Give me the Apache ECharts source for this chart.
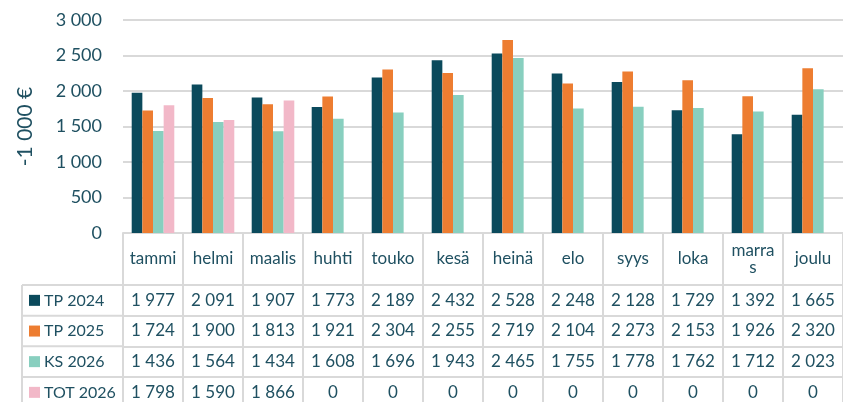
<!DOCTYPE html>
<html>
<head>
<meta charset="utf-8">
<script src="https://cdn.jsdelivr.net/npm/echarts@6/dist/echarts.min.js"></script>
<style>
  html, body { margin: 0; padding: 0; background: #fff; }
  #chart { width: 843px; height: 402px; }
</style>
</head>
<body>
<div id="chart"></div>
<script>
var months = ['tammi', 'helmi', 'maalis', 'huhti', 'touko', 'kesä', 'heinä', 'elo', 'syys', 'loka', 'marras', 'joulu'];
var seriesNames = ['TP 2024', 'TP 2025', 'KS 2026', 'TOT 2026'];
var tp2024 = [1977, 2091, 1907, 1773, 2189, 2432, 2528, 2248, 2128, 1729, 1392, 1665];
var tp2025 = [1724, 1900, 1813, 1921, 2304, 2255, 2719, 2104, 2273, 2153, 1926, 2320];
var ks2026 = [1436, 1564, 1434, 1608, 1696, 1943, 2465, 1755, 1778, 1762, 1712, 2023];
var tot2026 = [1798, 1590, 1866, 0, 0, 0, 0, 0, 0, 0, 0, 0];
var colors = ['#0b4a5c', '#ed7d31', '#88cfbf', '#f2b8c8'];

var allValues = [tp2024, tp2025, ks2026, tot2026];
var textColor = '#1f5061';
var lineColor = '#d9d9d9';
var font = 'Lato';

// tuhansien erotin välilyönnillä
function fmt(v) {
  return String(v).replace(/\B(?=(\d{3})+(?!\d))/g, ' ');
}

var myChart = echarts.init(document.getElementById('chart'));

// taulukon rivit: y-alku
var rowTops = [285, 315.7, 346.3, 377];
var rowH = 30.7;

var xAxes = [{
  type: 'category',
  data: months,
  position: 'bottom',
  axisLine: { show: true, lineStyle: { color: lineColor, width: 2 } },
  axisTick: { show: true, interval: 0, length: 175, lineStyle: { color: lineColor, width: 2 } },
  axisLabel: {
    interval: 0,
    margin: 26,
    verticalAlign: 'middle',
    color: textColor,
    fontFamily: font,
    fontSize: 17,
    formatter: function (v) { return v === 'marras' ? 'marra\ns' : v; }
  }
}];

allValues.forEach(function (vals, r) {
  xAxes.push({
    type: 'category',
    data: months,
    position: 'bottom',
    offset: rowTops[r] - 233,
    axisLine: { show: true, lineStyle: { color: lineColor, width: 2 } },
    axisTick: { show: false },
    axisLabel: {
      interval: 0,
      margin: 15.3,
      verticalAlign: 'middle',
      color: textColor,
      fontFamily: font,
      fontSize: 17,
      formatter: function (v, i) { return fmt(vals[i]); }
    }
  });
});

// selitteet omille riveilleen
var legends = seriesNames.map(function (name, r) {
  return {
    orient: 'horizontal',
    left: 29,
    top: rowTops[r] + rowH / 2 - 10,
    padding: 0,
    itemWidth: 11,
    itemHeight: 11,
    itemGap: 5,
    icon: 'rect',
    selectedMode: false,
    textStyle: { color: textColor, fontFamily: font, fontSize: 16, lineHeight: 20, padding: [0, 0, 0, -1] },
    data: [name]
  };
});

var graphicLines = [
  { type: 'line', shape: { x1: 22, y1: 285, x2: 22, y2: 402 }, style: { stroke: lineColor, lineWidth: 2 } }
];
rowTops.forEach(function (y) {
  graphicLines.push({ type: 'line', shape: { x1: 22, y1: y, x2: 123, y2: y }, style: { stroke: lineColor, lineWidth: 2 } });
});

var option = {
  animation: false,
  color: colors,
  grid: { left: 123, top: 20, width: 727, height: 213, containLabel: false },
  legend: legends,
  xAxis: xAxes,
  yAxis: {
    type: 'value',
    min: 0,
    max: 3000,
    interval: 500,
    name: '-1 000 €',
    nameLocation: 'middle',
    nameGap: 87,
    nameTextStyle: { color: textColor, fontFamily: font, fontSize: 21 },
    axisLine: { show: false },
    axisTick: { show: false },
    splitLine: { lineStyle: { color: lineColor, width: 2 } },
    axisLabel: {
      margin: 21,
      color: textColor,
      fontFamily: font,
      fontSize: 18,
      formatter: function (v) { return fmt(v); }
    }
  },
  graphic: graphicLines,
  series: seriesNames.map(function (name, i) {
    return {
      name: name,
      type: 'bar',
      xAxisIndex: 0,
      data: allValues[i],
      barGap: '0%',
      barCategoryGap: '29%'
    };
  })
};

myChart.setOption(option);
</script>
</body>
</html>
